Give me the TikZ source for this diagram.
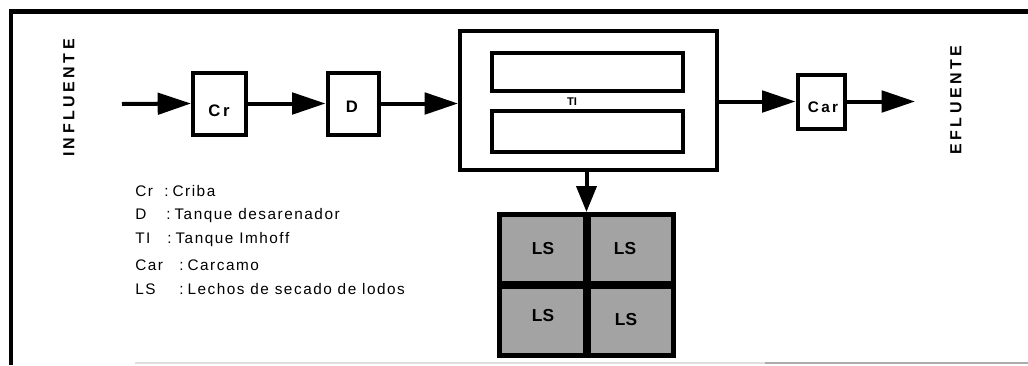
\documentclass[tikz,border=0pt]{standalone}
\usepackage{fontspec}
\setmainfont{Liberation Sans}
\newfontfamily\legfont[LetterSpace=10]{Liberation Sans}
\newfontfamily\boxfont[LetterSpace=15]{Liberation Sans Bold}
\newfontfamily\sidefont[LetterSpace=22]{Liberation Sans Bold}
\newfontfamily\plainbold{Liberation Sans Bold}
\usetikzlibrary{arrows.meta}
\begin{document}
\begin{tikzpicture}[x=0.75pt,y=-0.75pt,
  box/.style={draw=black, line width=3pt, inner sep=0pt},
  arr/.style={line width=3pt, -{Triangle[length=25pt,width=16pt]}},
  darr/.style={line width=3pt, -{Triangle[length=19.5pt,width=15pt]}},
  boxlbl/.style={inner sep=0pt, font=\boxfont\fontsize{12.5}{14}\selectfont},
  lslbl/.style={inner sep=0pt, font=\plainbold\fontsize{13}{15}\selectfont},
  sidelbl/.style={inner sep=0pt, rotate=90, font=\sidefont\fontsize{12}{14}\selectfont},
  leg/.style={inner sep=0pt, anchor=base west, font=\legfont\fontsize{11.5}{13}\selectfont}
]
\useasboundingbox (0,0) rectangle (1028,365);
% frame
\draw[line width=3.4pt] (11,365) -- (11,11.5) -- (1028,11.5);
\draw[gray!25, line width=0.8pt] (135,363) -- (765,363);
\draw[gray!65, line width=0.8pt] (765,363) -- (1028,363);

% process boxes
\node[box, minimum width=40.1pt, minimum height=46.5pt] (Cr) at (219.75,103.5) {};
\node[box, minimum width=38.25pt, minimum height=46.5pt] (D) at (353,103.5) {};
\node[box, minimum width=193.1pt, minimum height=104.6pt] (TI) at (588.75,100.75) {};
\node[box, minimum width=143.25pt, minimum height=28.5pt] (TIa) at (587,71.5) {};
\node[box, minimum width=143.25pt, minimum height=31.1pt] (TIb) at (587,131.75) {};
\node[box, minimum width=35.25pt, minimum height=40.5pt] (Car) at (821,101.5) {};

% labels in boxes
\node[boxlbl] (Crl) at (219,111) {Cr};
\node[boxlbl] (Dl) at (352,107) {D};
\node[boxlbl, font=\boxfont\fontsize{11.5}{13}\selectfont] (Carl) at (823,107) {Car};
\node[inner sep=0pt, font=\plainbold\fontsize{8.4}{10}\selectfont] (TIl) at (572,102) {TI};

% drying beds
\node[draw=black, fill=black!36, line width=3.75pt, minimum width=130.5pt, minimum height=105.75pt, inner sep=0pt] (ls) at (586.5,285) {};
\draw[line width=6pt] (ls.north) -- (ls.south);
\draw[line width=6pt] (ls.west) -- (ls.east);
\node[lslbl] (ls1) at (543,249) {LS};
\node[lslbl] (ls2) at (625,249) {LS};
\node[lslbl] (ls3) at (543,316) {LS};
\node[lslbl] (ls4) at (626,320) {LS};

% side labels
\node[sidelbl] (inf) at (69,98) {INFLUENTE};
\node[sidelbl] (efl) at (956,100) {EFLUENTE};

% connectors
\coordinate (in) at (122,104);
\coordinate (out) at (915,101.5);
\draw[arr] (in) -- (Cr.west);
\draw[arr] (Cr.east) -- (D.west);
\draw[arr] (D.east) -- (D.east -| TI.west);
\draw[arr] (TI.east |- Car.west) -- (Car.west);
\draw[arr] (Car.east) -- (out);
\draw[darr] (ls.north |- TI.south) -- (ls.north);

% legend
\node[leg] (k1) at (135,196) {Cr};
\node[leg] (v1) at (164,196) {:\hspace{3pt}Criba};
\node[leg] (k2) at (135,219) {D};
\node[leg] (v2) at (166,219) {:\hspace{3pt}Tanque desarenador};
\node[leg] (k3) at (135,243) {TI};
\node[leg] (v3) at (167,243) {:\hspace{3pt}Tanque Imhoff};
\node[leg] (k4) at (135,270) {Car};
\node[leg] (v4) at (179,270) {:\hspace{3pt}Carcamo};
\node[leg] (k5) at (135,294) {LS};
\node[leg] (v5) at (179,294) {:\hspace{3pt}Lechos de secado de lodos};
\end{tikzpicture}
\end{document}
